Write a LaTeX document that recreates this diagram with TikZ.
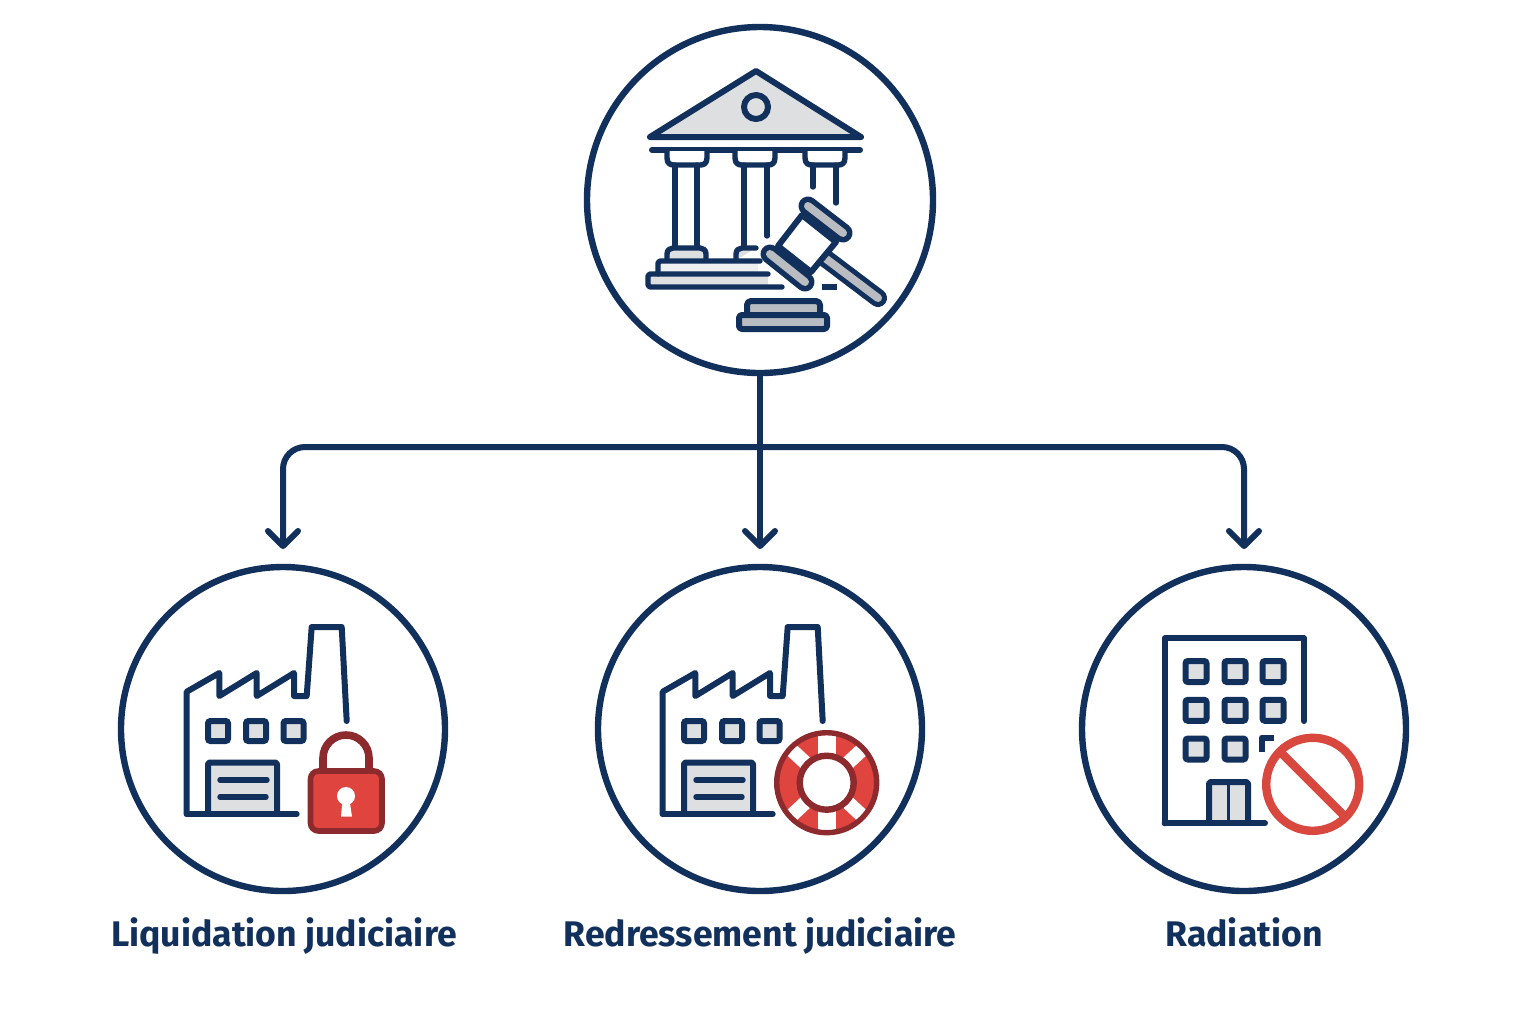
\documentclass[tikz,border=0pt]{standalone}
\usepackage{fontspec}
\setmainfont{Fira Sans}
\usetikzlibrary{arrows.meta}
\definecolor{navy}{HTML}{12305C}
\definecolor{fillgray}{HTML}{DEDFE1}
\definecolor{metalgray}{HTML}{B9BCC0}
\definecolor{darkred}{HTML}{8C2A2E}
\definecolor{brightred}{HTML}{E0443F}
\definecolor{nored}{HTML}{D9483F}
\newlength{\unitpx}\setlength{\unitpx}{0.5pt}
\tikzset{
  hub/.style={circle,draw=navy,line width=3.2pt,fill=white,inner sep=0pt,outer sep=0pt,minimum size=346\unitpx},
  leaf/.style={circle,draw=navy,line width=3.2pt,fill=white,inner sep=0pt,outer sep=0pt,minimum size=324\unitpx},
  caption/.style={text=navy,font=\bfseries\fontsize{17.8pt}{20pt}\selectfont,inner sep=0pt,anchor=base},
  conn/.style={draw=navy,line width=3pt,line cap=round,line join=round},
  tipped/.style={conn,-{Straight Barb[length=7.5pt,width=15pt,round]},shorten >=9pt},
  ink/.style={draw=navy,line width=3pt,line cap=round,line join=round},
  fineink/.style={draw=navy,line width=2.7pt,line cap=round,line join=round},
  pane/.style={draw=navy,fill=fillgray,line width=3pt,rounded corners=1.2pt}
}
\newcommand{\factoryicon}{%
  \draw[ink] (346.7,721) -- (341.7,627) -- (311.7,627) -- (306.7,696) -- (294,696) -- (294,673)
     -- (256.7,696) -- (256.7,673) -- (219.3,696) -- (219.3,673) -- (186.7,691.7) -- (186.7,814);
  \foreach \wx in {218,256,293.5}
    \draw[pane] (\wx-10,721) rectangle (\wx+10,741);
  \draw[ink,fill=fillgray,rounded corners=1pt] (208,814) -- (208,762.5) -- (277,762.5) -- (277,814);
  \draw[ink] (186.7,814) -- (296.7,814);
  \draw[fineink] (220,780) -- (267,780);
  \draw[fineink] (220,797) -- (266,797);
}
\newcommand{\capital}[1]{%
  \draw[fineink,fill=white] (#1-20,151) -- (#1-20,158) .. controls (#1-20,164) and (#1-16,165) .. (#1-13,165)
     -- (#1+13,165) .. controls (#1+16,165) and (#1+20,164) .. (#1+20,158) -- (#1+20,151);
}
\begin{document}
\begin{tikzpicture}[x=0.5pt,y=-0.5pt]
\useasboundingbox (0,0) rectangle (1536,1024);
\fill[white] (0,0) rectangle (1536,1024);
% main nodes
\node[hub]  (court)  at (760,200) {};
\node[leaf] (liq)    at (283,729) {};
\node[leaf] (red)    at (760,729) {};
\node[leaf] (rad)    at (1244,729) {};
\coordinate (bus) at (760,447);
% connectors
\draw[conn,rounded corners=11pt,tipped] (bus) -| (liq.north);
\draw[conn,rounded corners=11pt,tipped] (bus) -| (rad.north);
\draw[tipped] (court.south) -- (red.north);
% captions
\node[caption] (liqcap) at (284,946) {Liquidation judiciaire};
\node[caption] (redcap) at (760,946) {Redressement judiciaire};
\node[caption] (radcap) at (1244,946) {Radiation};

% ---- court building
\draw[ink,fill=fillgray] (756,71) -- (861,137) -- (650,137) -- cycle;
\draw[ink,fill=fillgray] (756,107) circle (12);
\draw[ink] (652,150) -- (860,150);
\foreach \cx in {687,755,825} {\capital{\cx}}
\draw[fineink] (675,165) -- (675,247);
\draw[fineink] (697,165) -- (697,247);
\draw[fineink] (744,165) -- (744,247);
\draw[fineink] (767,165) -- (767,236);
\draw[fineink] (813,165) -- (813,187);
\draw[fineink] (836,165) -- (836,203);
% bases and steps
\draw[fineink,fill=fillgray] (667,260) -- (667,254) .. controls (667,250) and (670,248) .. (673,248)
   -- (700,248) .. controls (703,248) and (706,250) .. (706,254) -- (706,260);
\draw[fineink,fill=fillgray] (736,260) -- (736,254) .. controls (736,250) and (739,248) .. (742,248) -- (756,248);
\fill[fillgray!50] (660,263) rectangle (758,273);
\fill[fillgray] (650,276) rectangle (768,285);
\draw[fineink] (760,261) -- (660,261) -- (658,263) -- (658,274);
\draw[fineink] (768,274) -- (650,274) -- (648,276) -- (648,285) -- (650,287) -- (782,287);
\draw[fineink,line cap=butt] (822,287) -- (837,287);
% ---- gavel
\draw[navy,line width=9pt,line cap=round] (825,258) -- (878,298);
\draw[metalgray,line width=4pt,line cap=round] (825,258) -- (878,298);
\draw[ink,fill=white] (802,215) -- (836,242) -- (811,272) -- (778,246) -- cycle;
\draw[navy,line width=9.5pt,line cap=round] (808,206) -- (843,233);
\draw[metalgray,line width=4pt,line cap=round] (808,206) -- (843,233);
\draw[navy,line width=9.5pt,line cap=round] (770,254) -- (805,282);
\draw[metalgray,line width=4pt,line cap=round] (770,254) -- (805,282);
\draw[ink,fill=metalgray,rounded corners=2pt] (747,315) -- (747,301) -- (820,301) -- (820,315);
\draw[ink,fill=metalgray,rounded corners=1.5pt] (739,315) rectangle (827,329);

% ---- factory with lock
\begin{scope}
\factoryicon
\draw[darkred,line width=3.8pt] (323,772) -- (323,758) arc[start angle=180,end angle=360,radius=23] -- (369,772);
\draw[draw=darkred,fill=brightred,line width=2.8pt,rounded corners=4pt] (310.5,771) rectangle (382,831);
\fill[white] (346,796) circle (9);
\fill[white] (342.5,800) -- (349.5,800) -- (352,816.5) -- (341,816.5) -- cycle;
\end{scope}

% ---- factory with ring
\begin{scope}[shift={(476,0)}]
\factoryicon
\end{scope}
\fill[brightred] (826.7,782.7) circle (50);
\foreach \ang/\wd in {90/9,270/9,43/7,137/7,223/7,317/7}
  \draw[white,line width=\wd pt] (826.7,782.7) -- ++({\ang}:49);
\fill[white] (826.7,782.7) circle (27);
\draw[darkred,line width=2.7pt] (826.7,782.7) circle (50);
\draw[darkred,line width=3.2pt] (826.7,782.7) circle (27);

% ---- office with prohibition sign
\draw[ink] (1304,721) -- (1304,638.3) -- (1164.7,638.3) -- (1164.7,823.3);
\foreach \wy in {671.5,710.3,749}
  \foreach \wx in {1196,1235} \draw[pane] (\wx-10.5,\wy-10.5) rectangle (\wx+10.5,\wy+10.5);
\foreach \wy in {671.5,710.3}
  \draw[pane] (1262.5,\wy-10.5) rectangle (1283.5,\wy+10.5);
\draw[ink,fill=fillgray,rounded corners=1pt] (1209,823) -- (1209,782) -- (1248,782) -- (1248,823);
\draw[navy,line width=1.5pt] (1228.7,782) -- (1228.7,823);
\draw[ink] (1164.7,823.3) -- (1265,823.3);
\draw[ink,line cap=butt] (1262,752) -- (1262,737.5) -- (1274,737.5);
\draw[draw=nored,fill=white,line width=4.2pt] (1312.7,784.3) circle (46.5);
\draw[nored,line width=4.2pt] (1279.8,751.4) -- (1345.6,817.2);
\end{tikzpicture}
\end{document}
